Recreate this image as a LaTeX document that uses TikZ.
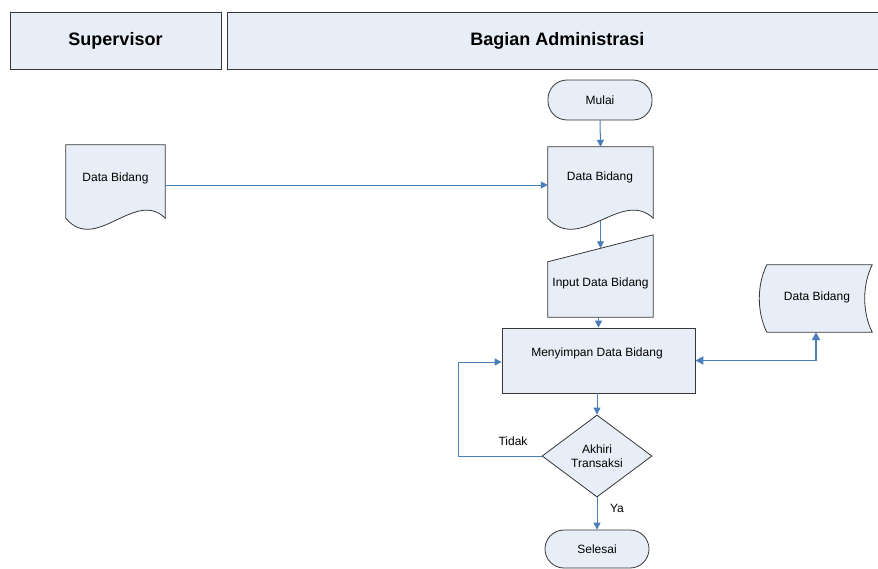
\documentclass[tikz,border=0pt]{standalone}
\usepackage{fontspec}
\setmainfont{Liberation Sans}
\usetikzlibrary{arrows.meta,shapes.geometric,calc}
\definecolor{boxfill}{RGB}{232,238,247}
\definecolor{flowblue}{RGB}{74,126,187}
\definecolor{edgegray}{RGB}{55,55,55}

% document symbol with a wavy lower edge, drawn on an empty node
\newcommand\flowdoc[1]{%
  \path[shapeline] (#1.south west) -- (#1.north west) -- (#1.north east) -- (#1.south east)
    .. controls ($(#1.south west)!0.7!(#1.south east)+(0,-30)$)
            and ($(#1.south west)!0.3!(#1.south east)+(0,36)$) .. (#1.south west) -- cycle;}

\begin{document}
\begin{tikzpicture}[x=1pt,y=-1pt,
  font=\fontsize{12}{14}\selectfont,
  shapeline/.style={draw=edgegray,fill=boxfill,line width=0.8pt},
  lane/.style={shapeline,font=\fontsize{18}{21}\selectfont\bfseries,minimum height=57pt,inner sep=0pt},
  term/.style={shapeline,rounded corners=19pt,minimum width=104pt,inner sep=0pt},
  holder/.style={draw=none,inner sep=0pt},
  txt/.style={inner sep=1pt,align=center},
  flow/.style={draw=flowblue,line width=1pt,-{Triangle[length=7pt,width=7pt]}},
  link/.style={draw=flowblue,line width=1.8pt,{Triangle[length=8pt,width=8pt]}-{Triangle[length=8pt,width=8pt]}},
]
\useasboundingbox (0,0) rectangle (878,568);
\fill[white] (0,0) rectangle (878,568);

% swimlane headers
\node[lane,minimum width=211pt] (lsup) at (115.5,40.5) {Supervisor};
\node[lane,minimum width=660pt,anchor=west] (ladm) at (227,40.5) {Bagian Administrasi};

% supervisor document
\node[holder,minimum width=99pt,minimum height=73pt] (sdoc) at (115.5,181.5) {};
\flowdoc{sdoc}
\node[txt] (sdoct) at (115.5,178) {Data Bidang};

% start
\node[term,minimum height=40pt] (start) at (600,100) {Mulai};

% administration document
\node[holder,minimum width=105pt,minimum height=71pt] (adoc) at (600.5,182.5) {};
\flowdoc{adoc}
\node[txt] (adoct) at (600,177) {Data Bidang};

% manual input
\node[holder,minimum width=105pt,minimum height=82pt] (inp) at (600.5,276) {};
\path[shapeline] (inp.south west) -- ($(inp.north west)+(0,27)$) -- (inp.north east)
  -- (inp.south east) -- cycle;
\node[txt] (inpt) at (600.5,283) {Input Data Bidang};

% process
\node[shapeline,minimum width=193pt,minimum height=65pt,inner sep=0pt] (proc) at (598.5,360.5) {};
\node[txt] (proct) at (597,353) {Menyimpan Data Bidang};

% stored data
\node[holder,minimum width=105pt,minimum height=67pt] (store) at (819.5,298.5) {};
\path[shapeline] (store.north west) -- (store.north east)
  .. controls +(-10,20) and +(-10,-20) .. (store.south east) -- (store.south west)
  .. controls +(-10,-20) and +(-10,20) .. (store.north west) -- cycle;
\node[txt] (storet) at (817,297) {Data Bidang};

% decision
\node[shapeline,diamond,minimum width=110pt,minimum height=82pt,inner sep=0pt,txt] (dec) at (597,456) {Akhiri\\Transaksi};

% end
\node[term,minimum height=38pt] (stop) at (597,549) {Selesai};

% connectors
\coordinate (lvl) at (0,185);
\coordinate (lp) at (458,362);
\draw[flow] (sdoc.east |- lvl) -- (adoc.west |- lvl);
\draw[flow] (start.south) -- (adoc.north);
\draw[flow] ($(adoc.south)+(0,3)$) -- ($(inp.north)+(0,13.5)$);
\draw[flow] (proc.north |- inp.south) -- (proc.north);
\draw[flow] (dec.north |- proc.south) -- (dec.north);
\draw[link] (proc.east) -| ($(store.south)+(-3.5,0)$);
\draw[flow] (dec.west) -| (lp) -- (lp -| proc.west);
\draw[flow] (dec.south) -- (stop.north);

% branch labels
\node[txt] (tidak) at (513,441) {Tidak};
\node[txt] (ya) at (617,508) {Ya};
\end{tikzpicture}
\end{document}
